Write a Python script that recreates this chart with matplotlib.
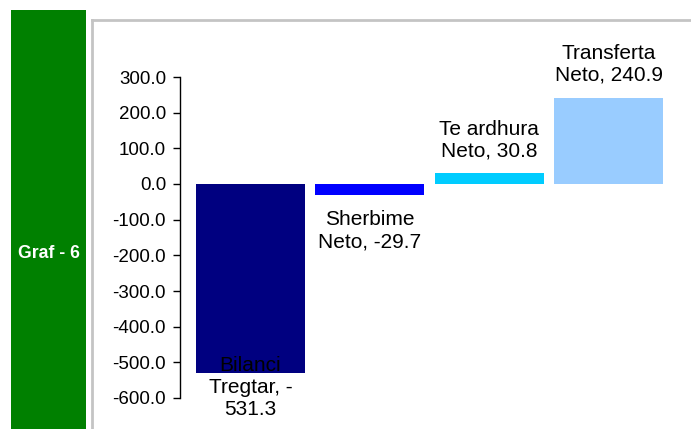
import matplotlib
matplotlib.use("Agg")
import matplotlib.pyplot as plt
from matplotlib.patches import Rectangle
from matplotlib.lines import Line2D

plt.rcParams['font.family'] = ['Liberation Sans', 'DejaVu Sans']

categories = ["Bilanci Tregtar", "Sherbime Neto", "Te ardhura Neto", "Transferta Neto"]
values = [-531.3, -29.7, 30.8, 240.9]
label_texts = ["Bilanci\nTregtar, -\n531.3", "Sherbime\nNeto, -29.7", "Te ardhura\nNeto, 30.8", "Transferta\nNeto, 240.9"]
colors = ["#000080", "#0000FF", "#00CCFF", "#99CCFF"]
yticks = [-600, -500, -400, -300, -200, -100, 0, 100, 200, 300]
side_title = "Graf - 6"

# label offsets (pixels) relative to bar end
label_offsets = [-14, -36, 33, 34]

W, H = 691, 429
fig = plt.figure(figsize=(W / 100, H / 100), dpi=100)

# green side panel
fig.patches.append(Rectangle((11 / W, 0), 75 / W, 1 - 10 / H, transform=fig.transFigure,
                             facecolor="#008000", edgecolor="none"))
fig.text(48.5 / W, 1 - 254 / H, side_title, color="white", fontsize=12.7, fontweight="bold",
         ha="center", va="center")

# gray border of chart area
fig.lines.append(Line2D([92 / W, 92 / W], [0, 1 - 20 / H], transform=fig.transFigure,
                        color="#C4C4C4", lw=2))
fig.lines.append(Line2D([92 / W, 1], [1 - 20 / H, 1 - 20 / H], transform=fig.transFigure,
                        color="#C4C4C4", lw=2))

left = 180 / W
right = 679 / W
bottom = 1 - 398 / H
top = 1 - 77 / H
ax = fig.add_axes([left, bottom, right - left, top - bottom])
ax.set_facecolor("none")

x = list(range(len(categories)))
bars = ax.bar(x, values, width=0.914, color=colors, zorder=2)

ax.set_xlim(-0.59, len(categories) - 1 + 0.59)
ax.set_ylim(-600, 300)
ax.set_yticks(yticks)
ax.set_yticklabels([f"{v:.1f}" for v in yticks])
ax.set_xticks([])
for s in ["top", "right", "bottom"]:
    ax.spines[s].set_visible(False)
ax.spines["left"].set_linewidth(1)
ax.tick_params(axis="y", direction="out", length=5, width=1, pad=5, labelsize=13.5)

for xi, v, t, off in zip(x, values, label_texts, label_offsets):
    ax.annotate(t, xy=(xi, v), xytext=(0, off), textcoords="offset pixels",
                ha="center", va="center", fontsize=15, color="black",
                linespacing=1.2, zorder=3, annotation_clip=False)

fig.savefig("out.png", dpi=100)
